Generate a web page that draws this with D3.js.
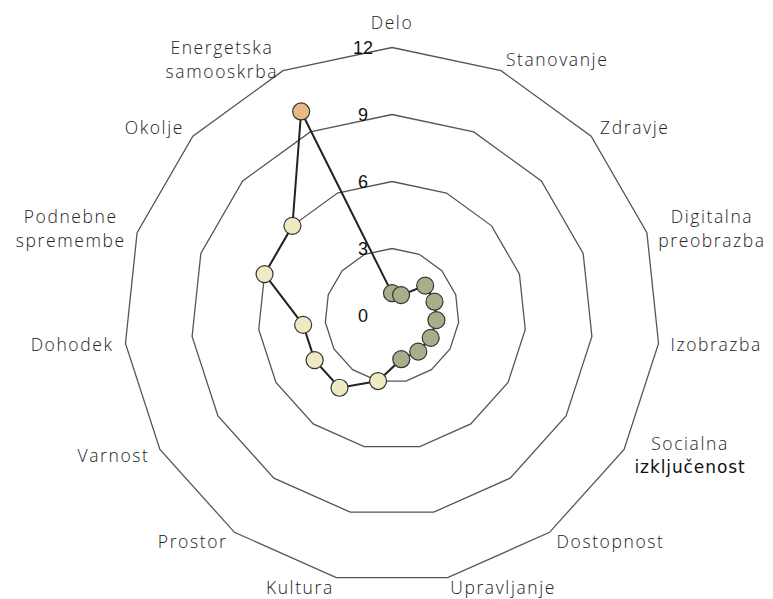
<!DOCTYPE html>
<html><head><meta charset="utf-8">
<script src="https://cdn.jsdelivr.net/npm/d3@7"></script>
<style>
html,body{margin:0;padding:0;background:#fff;}
svg{display:block;}
</style></head>
<body>
<svg id="chart" width="773" height="599"></svg>
<script>
const categories = [
  ["Delo"], ["Stanovanje"], ["Zdravje"], ["Digitalna","preobrazba"], ["Izobrazba"],
  ["Socialna","izključenost"], ["Dostopnost"], ["Upravljanje"], ["Kultura"], ["Prostor"],
  ["Varnost"], ["Dohodek"], ["Podnebne","spremembe"], ["Okolje"], ["Energetska","samooskrba"]
];
const values = [1, 1, 2, 2, 2, 2, 2, 2, 3, 4, 4, 4, 6, 6, 10];
const tickValues = [0, 3, 6, 9, 12];
const colorStops = [3, 7];
const colorRange = ["#a9ad89", "#eeeac4", "#e9b887"];

const svg = d3.select("#chart");
const cx = 392, cy = 315.5, R = 268;
const n = categories.length;
const r = d3.scaleLinear().domain([0, 12]).range([0, R]);
const ang = d3.scaleLinear().domain([0, n]).range([0, 2 * Math.PI]);
const color = d3.scaleThreshold().domain(colorStops).range(colorRange);

const g = svg.append("g").attr("transform", `translate(${cx},${cy})`);

// grid rings
const ringLine = d3.lineRadial().angle((d, i) => ang(i)).radius(d => r(d)).curve(d3.curveLinearClosed);
tickValues.filter(t => t > 0).forEach(t => {
  g.append("path").attr("d", ringLine(d3.range(n).map(() => t)))
    .attr("fill", "none").attr("stroke", "#555").attr("stroke-width", 1.3);
});

// tick labels
g.selectAll("text.tick").data(tickValues).join("text")
  .attr("class", "tick")
  .attr("x", -29).attr("y", d => -r(d))
  .attr("dy", "0.35em")
  .attr("text-anchor", "middle")
  .attr("font-family", "Liberation Sans, Arial, sans-serif")
  .attr("font-size", 18).attr("fill", "#111")
  .text(d => d);

// data line
const dataLine = d3.lineRadial().angle((d, i) => ang(i)).radius(d => r(d)).curve(d3.curveLinearClosed);
g.append("path").attr("d", dataLine(values))
  .attr("fill", "none").attr("stroke", "#222").attr("stroke-width", 2);

// points
g.selectAll("circle.pt").data(values).join("circle")
  .attr("class", "pt")
  .attr("cx", (d, i) => r(d) * Math.sin(ang(i)))
  .attr("cy", (d, i) => -r(d) * Math.cos(ang(i)))
  .attr("r", 8.5)
  .attr("fill", d => color(d))
  .attr("stroke", "#333").attr("stroke-width", 1.2);

// category labels
const LR = 280, lineH = 23.5;
categories.forEach((lines, i) => {
  const a = ang(i);
  const s = Math.sin(a), c = Math.cos(a);
  let x = LR * s, y = -LR * c;
  if (Math.abs(s) < 0.1 && c > 0) y -= 13;
  if (c < -0.9) y -= 2;
  const t = g.append("text")
    .attr("font-family", "'Open Sans', Lato, sans-serif")
    .attr("font-weight", 300)
    .attr("font-size", 17.5).attr("fill", "#222")
    .attr("letter-spacing", 1.6)
    .attr("text-anchor", "middle");
  const y0 = y - (lines.length - 1) * lineH / 2;
  const tspans = lines.map((ln, j) => {
    const ts = t.append("tspan").attr("y", y0 + j * lineH).attr("dy", "0.35em").text(ln);
    if (/[čšž]/.test(ln)) {
      ts.attr("font-family", "'DejaVu Sans', sans-serif").attr("font-weight", 400)
        .attr("font-size", 17).attr("letter-spacing", 0.9).attr("fill", "#111");
    }
    return ts;
  });
  const widths = tspans.map(ts => ts.node().getComputedTextLength());
  const w = d3.max(widths);
  let centerX;
  if (s > 0.1) centerX = x + w / 2;
  else if (s < -0.1) centerX = x - w / 2;
  else centerX = x;
  tspans.forEach(ts => ts.attr("x", centerX));
});
</script>
</body></html>
